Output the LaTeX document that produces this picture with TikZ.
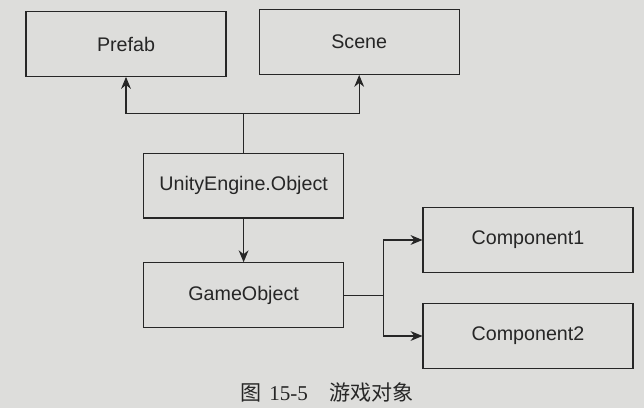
\documentclass[tikz,border=0pt]{standalone}
\usepackage{fontspec}
\newfontfamily\labelfont{Liberation Sans}
\newfontfamily\capfont{Liberation Serif}
\newfontfamily\cjk{Noto Sans CJK SC}
\usepackage{xcolor}
\definecolor{paper}{RGB}{221, 221, 219}
\definecolor{ink}{RGB}{38, 38, 38}
\usepackage{tikz}
\usetikzlibrary{arrows.meta}

\begin{document}
\begin{tikzpicture}[>={Stealth[length=8.5pt, width=7pt]}, line width=0.75pt,
  objbox/.style={draw=ink, text=ink, minimum width=5cm, minimum height=1.62cm,
    font=\labelfont\fontsize{14}{16}\selectfont},
  compbox/.style={objbox, minimum width=5.25cm}]
  \fill[paper] (0,0) rectangle (16.1,-10.2);
  \useasboundingbox (0,0) rectangle (16.1,-10.2);
  % boxes
  \node[objbox] (prefab) at (3.15,-1.1) {Prefab};
  \node[objbox] (scene) at (8.98,-1.05) {Scene};
  \node[objbox] (uobject) at (6.09,-4.64) {UnityEngine.Object};
  \node[objbox] (gameobj) at (6.09,-7.38) {GameObject};
  \node[compbox] (comp1) at (13.2,-6.0) {Component1};
  \node[compbox] (comp2) at (13.2,-8.4) {Component2};
  % connectors
  \coordinate (split) at (6.09,-2.83);
  \coordinate (fork) at (9.58,-7.38);
  \draw[ink] (uobject.north) -- (split);
  \draw[ink, ->] (split) -| (prefab.south);
  \draw[ink, ->] (split) -| (scene.south);
  \draw[ink, ->] (uobject.south) -- (gameobj.north);
  \draw[ink] (gameobj.east) -- (fork);
  \draw[ink, ->] (fork) |- (comp1.west);
  \draw[ink, ->] (fork) |- (comp2.west);
  % caption
  \node[text=ink, font=\fontsize{15}{18}\selectfont] (caption) at (8.18,-9.8)
    {{\cjk 图}\hspace{0.35em}{\capfont 15-5}\hspace{1em}{\cjk 游戏对象}};
\end{tikzpicture}
\end{document}
